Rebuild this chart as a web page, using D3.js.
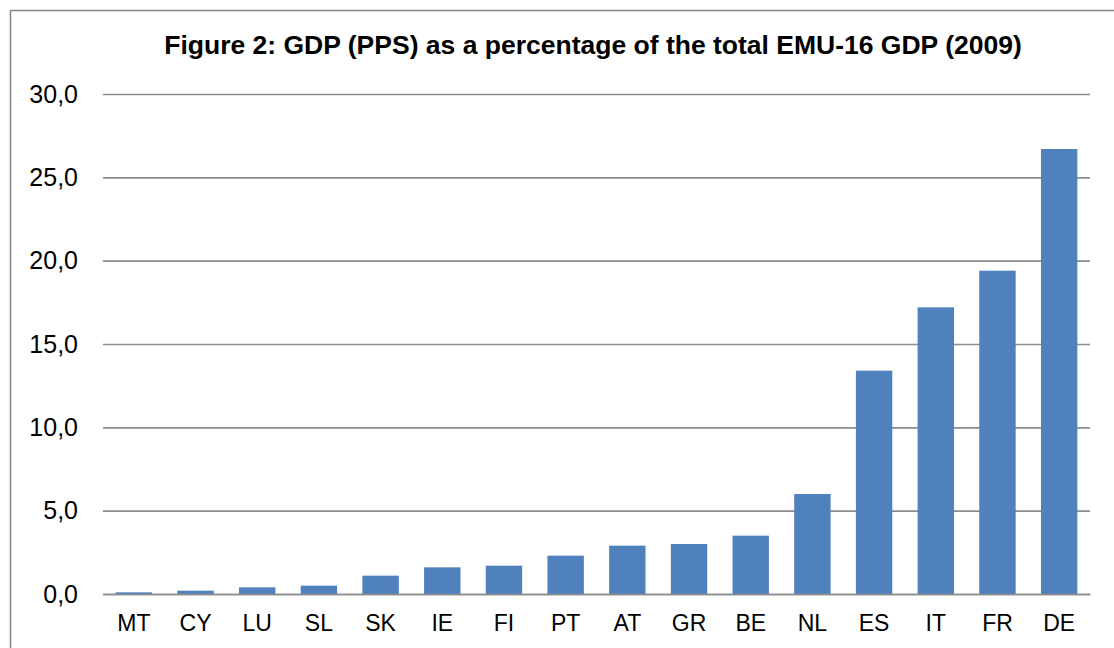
<!DOCTYPE html>
<html><head><meta charset="utf-8">
<script src="https://cdn.jsdelivr.net/npm/d3@7"></script>
<style>body{margin:0;background:#fff}svg{display:block}</style>
</head><body>
<svg id="c" width="1114" height="648"></svg>
<script>
const categories = ["MT","CY","LU","SL","SK","IE","FI","PT","AT","GR","BE","NL","ES","IT","FR","DE"];
const values = [0.1,0.2,0.4,0.5,1.1,1.6,1.7,2.3,2.9,3.0,3.5,6.0,13.4,17.2,19.4,26.7];
const yTicks = [0,5,10,15,20,25,30];
const title = "Figure 2: GDP (PPS) as a percentage of the total EMU-16 GDP (2009)";

const svg = d3.select("#c");
const font = "'Liberation Sans', Arial, sans-serif";
// frame (top and left)
svg.append("path").attr("d","M10.5,648 L10.5,10.5 L1114,10.5").attr("fill","none").attr("stroke","#868686").attr("stroke-width",1.5);

const x = d3.scaleBand().domain(categories).range([103,1090]).paddingInner(0.41).paddingOuter(0.205);
const y = d3.scaleLinear().domain([0,30]).range([594,94]);

svg.append("text").attr("x",593).attr("y",54).attr("text-anchor","middle")
  .attr("font-family",font).attr("font-weight","bold").attr("font-size",26.5).attr("fill","#000").text(title);

const yAxis = svg.append("g").attr("transform","translate(103,0)")
  .call(d3.axisLeft(y).tickValues(yTicks).tickSize(-(1090-103)).tickPadding(25)
    .tickFormat(d => d3.format(".1f")(d).replace(".",",")));
yAxis.select(".domain").remove();
yAxis.selectAll(".tick line").attr("stroke","#8c8c8c").attr("stroke-width",1.6);
yAxis.selectAll(".tick text").attr("font-family",font).attr("font-size",25).attr("fill","#000");

svg.append("g").selectAll("rect").data(values).join("rect")
  .attr("x",(d,i)=>x(categories[i])).attr("width",x.bandwidth())
  .attr("y",d=>y(d)).attr("height",d=>y(0)-y(d)).attr("fill","#4f81bd");

const xAxis = svg.append("g").attr("transform","translate(0,594)")
  .call(d3.axisBottom(x).tickSize(0).tickPadding(21));
xAxis.select(".domain").attr("stroke","#8c8c8c").attr("stroke-width",1.6);
xAxis.selectAll(".tick text").attr("font-family",font).attr("font-size",23).attr("fill","#000");
</script>
</body></html>
